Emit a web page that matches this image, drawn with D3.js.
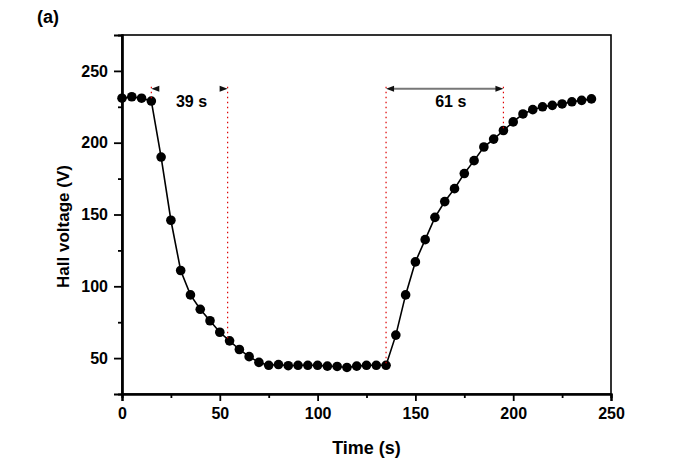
<!DOCTYPE html>
<html>
<head>
<meta charset="utf-8">
<script src="https://cdn.jsdelivr.net/npm/d3@7"></script>
<style>
  body { margin: 0; background: #fff; }
  svg { display: block; font-family: Arial, "Liberation Sans", sans-serif; }
</style>
</head>
<body>
<script>
// data, one sample every 5 s
const times = d3.range(0, 245, 5);
const hallVoltage = [
  231, 232, 231, 229, 190, 146, 111, 94, 84, 76,
  68, 62, 56, 51, 47, 45, 45.5, 44.7, 45, 45,
  45, 44.4, 44.2, 43.5, 44.4, 45, 45, 45, 66, 94,
  117, 132.5, 148, 159, 168, 178.5, 187.5, 197, 202.5, 208.5,
  214.5, 220, 223, 225, 226, 227, 228.5, 229.5, 230.5
];
const xTicks = [0, 50, 100, 150, 200, 250];
const yTicks = [50, 100, 150, 200, 250];
// time marks for the two response-time annotations
const fallMarks = [15, 54];
const riseMarks = [135, 195];

const width = 676, height = 462;
const margin = { top: 35, right: 65, bottom: 68, left: 122 };

const svg = d3.select("body")
    .append("svg")
    .attr("width", width)
    .attr("height", height);

const xScale = d3.scaleLinear()
    .domain([0, 250])
    .range([margin.left, width - margin.right]);
const yScale = d3.scaleLinear()
    .domain([25, 275])
    .range([height - margin.bottom, margin.top]);

const data = times.map((t, i) => ({ t: t, v: hallVoltage[i] }));

// frame
svg.append("rect")
    .attr("x", xScale(0))
    .attr("y", yScale(275))
    .attr("width", xScale(250) - xScale(0))
    .attr("height", yScale(25) - yScale(275))
    .attr("fill", "none")
    .attr("stroke", "#000")
    .attr("stroke-width", 1.6);

// axes: major + minor ticks
svg.append("g")
    .attr("transform", "translate(0," + yScale(25) + ")")
    .call(d3.axisBottom(xScale).tickValues(xTicks).tickSize(7).tickPadding(7));
svg.append("g")
    .attr("transform", "translate(0," + yScale(25) + ")")
    .call(d3.axisBottom(xScale).tickValues(xTicks.slice(0, -1).map(d => d + 25)).tickSize(4).tickFormat(""));
svg.append("g")
    .attr("transform", "translate(" + xScale(0) + ",0)")
    .call(d3.axisLeft(yScale).tickValues(yTicks).tickSize(8).tickPadding(6));
svg.append("g")
    .attr("transform", "translate(" + xScale(0) + ",0)")
    .call(d3.axisLeft(yScale).tickValues(yTicks.slice(0, -1).map(d => d + 25)).tickSize(4).tickFormat(""));

svg.selectAll(".domain").attr("stroke-width", 2.2);
svg.selectAll(".tick line").attr("stroke-width", 1.8);
svg.selectAll(".tick text")
    .attr("font-family", "Arial, 'Liberation Sans', sans-serif")
    .attr("font-size", 16)
    .attr("font-weight", "bold")
    .attr("fill", "#000");

// axis titles
svg.append("text")
    .attr("x", (xScale(0) + xScale(250)) / 2)
    .attr("y", 454)
    .attr("text-anchor", "middle")
    .attr("font-size", 18)
    .attr("font-weight", "bold")
    .text("Time (s)");
svg.append("text")
    .attr("transform", "translate(69," + ((yScale(25) + yScale(275)) / 2 + 12) + ") rotate(-90)")
    .attr("text-anchor", "middle")
    .attr("font-size", 17)
    .attr("font-weight", "bold")
    .text("Hall voltage (V)");
svg.append("text")
    .attr("x", 37)
    .attr("y", 23)
    .attr("font-size", 18)
    .attr("font-weight", "bold")
    .text("(a)");

// curve + points
const line = d3.line()
    .x(d => xScale(d.t))
    .y(d => yScale(d.v));
svg.append("path")
    .datum(data)
    .attr("d", line)
    .attr("fill", "none")
    .attr("stroke", "#000")
    .attr("stroke-width", 1.6);
svg.selectAll("circle.dot")
    .data(data)
    .enter()
    .append("circle")
    .attr("class", "dot")
    .attr("cx", d => xScale(d.t))
    .attr("cy", d => yScale(d.v))
    .attr("r", 4.8)
    .attr("fill", "#000");

// value on the curve at time t (linear between samples)
const valueAt = t => {
    const i = Math.min(Math.floor(t / 5), data.length - 2);
    const f = (t - data[i].t) / 5;
    return data[i].v + f * (data[i + 1].v - data[i].v);
};

// annotations
const arrowHead = (x, y, dir) => {
    const L = 8, W = 3;
    svg.append("path")
        .attr("d", "M" + x + "," + y + "L" + (x - dir * L) + "," + (y - W) + "L" + (x - dir * L) + "," + (y + W) + "Z")
        .attr("fill", "#111");
};

const annotate = (marks, label, shaft, shift) => {
    const yTop = yScale(239);
    const yArrow = yScale(237.5);
    marks.forEach(t => {
        svg.append("line")
            .attr("x1", xScale(t)).attr("x2", xScale(t))
            .attr("y1", yTop).attr("y2", yScale(valueAt(t)))
            .attr("stroke", "#e00000")
            .attr("stroke-width", 1.2)
            .attr("stroke-dasharray", "1.5,3.5");
    });
    const x0 = xScale(marks[0]), x1 = xScale(marks[1]);
    if (shaft) {
        svg.append("line")
            .attr("x1", x0 + 4).attr("x2", x1 - 4)
            .attr("y1", yArrow).attr("y2", yArrow)
            .attr("stroke", "#777")
            .attr("stroke-width", 2);
    }
    arrowHead(x0, yArrow, -1);
    arrowHead(x1, yArrow, 1);
    svg.append("text")
        .attr("x", (x0 + x1) / 2 + shift)
        .attr("y", yArrow + 18)
        .attr("text-anchor", "middle")
        .attr("font-size", 16)
        .attr("font-weight", "bold")
        .text(label);
};

annotate(fallMarks, "39 s", false, 2);
annotate(riseMarks, "61 s", true, 6);
</script>
</body>
</html>
